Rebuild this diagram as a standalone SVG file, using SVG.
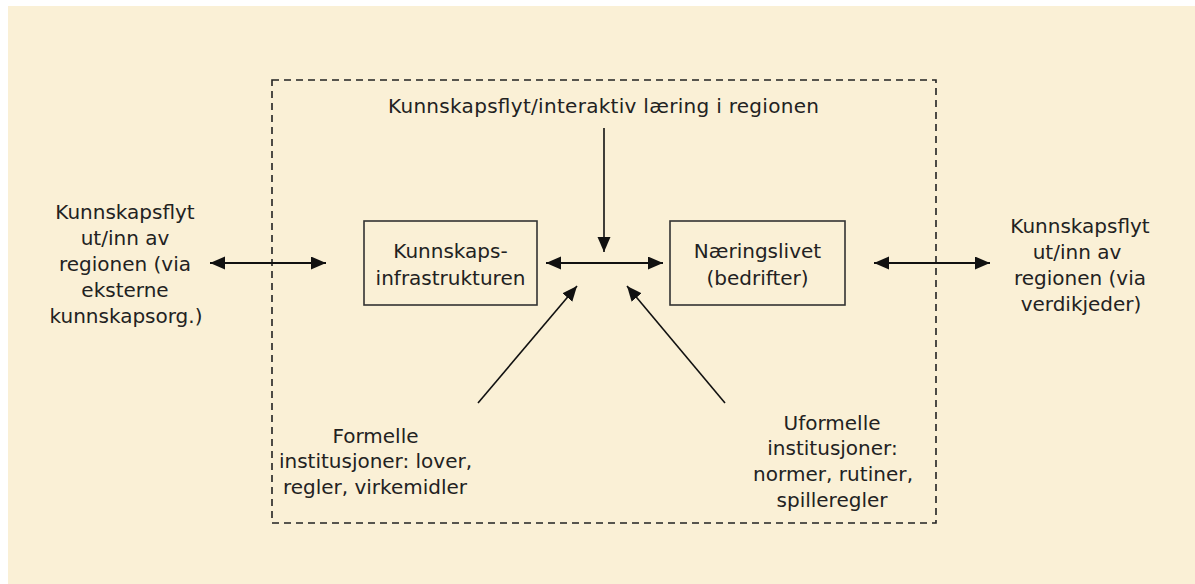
<svg xmlns="http://www.w3.org/2000/svg" width="1195" height="584" viewBox="0 0 1195 584">
  <style>
    .t { font-family: "DejaVu Sans", "Liberation Sans", sans-serif; font-size: 20px; fill: #222; text-anchor: middle; }
    .box { fill: none; stroke: #333; stroke-width: 1.6; }
    .region { fill: none; stroke: #222; stroke-width: 1.6; stroke-dasharray: 7 5; }
    .c { fill: none; stroke: #111; stroke-width: 2; }
    .d { fill: none; stroke: #111; stroke-width: 1.6; }
  </style>
  <defs>
    <marker id="ah" markerUnits="userSpaceOnUse" markerWidth="16" markerHeight="14" refX="15" refY="6.5" orient="auto-start-reverse">
      <path d="M0,0 L15,6.5 L0,13 Z" fill="#111"/>
    </marker>
  </defs>

  <rect x="0" y="0" width="1195" height="584" fill="#ffffff"/>
  <rect x="8" y="6" width="1187" height="578" fill="#FAF0D6"/>

  <g id="region">
    <rect class="region" x="272" y="80" width="664" height="443"/>
  </g>

  <g id="connectors">
    <line class="c" x1="210" y1="263" x2="326" y2="263" marker-start="url(#ah)" marker-end="url(#ah)"/>
    <line class="c" x1="874" y1="263" x2="990" y2="263" marker-start="url(#ah)" marker-end="url(#ah)"/>
    <line class="c" x1="546" y1="263" x2="663" y2="263" marker-start="url(#ah)" marker-end="url(#ah)"/>
    <line class="d" x1="604" y1="128" x2="604" y2="252" marker-end="url(#ah)"/>
    <line class="d" x1="478" y1="403" x2="577" y2="286" marker-end="url(#ah)"/>
    <line class="d" x1="725" y1="403" x2="627" y2="286" marker-end="url(#ah)"/>
  </g>

  <g id="node-top-label">
    <text class="t" x="603.5" y="113" textLength="431" lengthAdjust="spacing">Kunnskapsflyt/interaktiv læring i regionen</text>
  </g>

  <g id="node-kunnskapsinfrastrukturen">
    <rect class="box" x="364" y="221" width="173" height="84"/>
    <text class="t" x="450.5" y="258">Kunnskaps-</text>
    <text class="t" x="450.5" y="285">infrastrukturen</text>
  </g>

  <g id="node-naeringslivet">
    <rect class="box" x="670" y="221" width="175" height="84"/>
    <text class="t" x="757.5" y="258">Næringslivet</text>
    <text class="t" x="757.5" y="285">(bedrifter)</text>
  </g>

  <g id="node-left-label">
    <text class="t" x="125" y="219">Kunnskapsflyt</text>
    <text class="t" x="125" y="245">ut/inn av</text>
    <text class="t" x="125" y="271">regionen (via</text>
    <text class="t" x="125" y="297">eksterne</text>
    <text class="t" x="126" y="323">kunnskapsorg.)</text>
  </g>

  <g id="node-right-label">
    <text class="t" x="1080" y="233">Kunnskapsflyt</text>
    <text class="t" x="1077" y="259">ut/inn av</text>
    <text class="t" x="1080" y="285">regionen (via</text>
    <text class="t" x="1081" y="311">verdikjeder)</text>
  </g>

  <g id="node-formelle">
    <text class="t" x="375.5" y="443">Formelle</text>
    <text class="t" x="375.5" y="468" textLength="193" lengthAdjust="spacing">institusjoner: lover,</text>
    <text class="t" x="375" y="494">regler, virkemidler</text>
  </g>

  <g id="node-uformelle">
    <text class="t" x="832" y="430">Uformelle</text>
    <text class="t" x="832.5" y="455">institusjoner:</text>
    <text class="t" x="833" y="481" textLength="160" lengthAdjust="spacing">normer, rutiner,</text>
    <text class="t" x="832" y="507">spilleregler</text>
  </g>
</svg>
